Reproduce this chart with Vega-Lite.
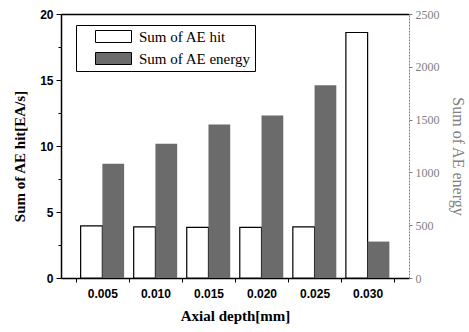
{
  "$schema": "https://vega.github.io/schema/vega-lite/v6.json",
  "width": 348,
  "height": 264,
  "padding": {"left": 12, "top": 8, "right": 5, "bottom": 5},
  "config": {"view": {"stroke": null}, "axis": {"grid": false}},
  "data": {"values": [
    {"depth": "0.005", "hit": 3.95, "energy": 1081},
    {"depth": "0.010", "hit": 3.88, "energy": 1271},
    {"depth": "0.015", "hit": 3.83, "energy": 1454},
    {"depth": "0.020", "hit": 3.83, "energy": 1540},
    {"depth": "0.025", "hit": 3.88, "energy": 1825},
    {"depth": "0.030", "hit": 18.6, "energy": 345}
  ]},
  "layer": [
    {
      "mark": {"type": "bar", "stroke": "black", "strokeWidth": 1.2},
      "encoding": {
        "x": {"field": "depth", "type": "nominal", "sort": null,
          "scale": {"paddingInner": 0, "paddingOuter": 0.28},
          "axis": {"orient": "bottom", "title": "Axial depth[mm]", "labelAngle": 0, "tickBand": "extent",
            "labelFont": "Liberation Sans", "labelFontWeight": "bold", "labelFontSize": 12, "labelColor": "black", "labelPadding": 6,
            "titleFont": "Liberation Serif", "titleFontWeight": "bold", "titleFontSize": 15, "titleColor": "black", "titlePadding": 9,
            "domainColor": "black", "domainWidth": 1.5, "tickColor": "black", "tickSize": 4}},
        "xOffset": {"datum": "hit", "scale": {"domain": ["hit", "energy"], "paddingInner": 0, "paddingOuter": 0.22}},
        "y": {"field": "hit", "type": "quantitative", "scale": {"domain": [0, 20]},
          "axis": {"orient": "left", "title": "Sum of AE hit[EA/s]",
            "values": [0, 2.5, 5, 7.5, 10, 12.5, 15, 17.5, 20],
            "labelExpr": "datum.value % 5 === 0 ? datum.label : ''",
            "tickSize": {"condition": {"test": "datum.value % 5 === 0", "value": 5}, "value": 3},
            "labelFont": "Liberation Sans", "labelFontWeight": "bold", "labelFontSize": 12, "labelColor": "black", "labelPadding": 3,
            "titleFont": "Liberation Serif", "titleFontWeight": "bold", "titleFontSize": 15, "titleColor": "black", "titlePadding": 12,
            "titleY": 142,
            "domainColor": "black", "domainWidth": 1.5, "tickColor": "black"}},
        "fill": {"datum": "Sum of AE hit", "type": "nominal",
          "scale": {"domain": ["Sum of AE hit", "Sum of AE energy"], "range": ["white", "#6b6b6b"]},
          "legend": {"title": null, "orient": "none", "legendX": 15, "legendY": 11,
            "symbolType": "M-3,-1H3V1H-3Z", "symbolSize": 144, "symbolStrokeColor": "black", "symbolStrokeWidth": 1,
            "labelFont": "Liberation Serif", "labelFontSize": 15, "labelColor": "black", "labelOffset": 18,
            "strokeColor": "black", "fillColor": "white", "padding": 4, "symbolOffset": 26, "rowPadding": 5}}
      }
    },
    {
      "mark": {"type": "bar"},
      "encoding": {
        "x": {"field": "depth", "type": "nominal", "sort": null,
          "axis": {"orient": "top", "labels": false, "ticks": false, "title": null, "domainColor": "black", "domainWidth": 1.5}},
        "xOffset": {"datum": "energy"},
        "y": {"field": "energy", "type": "quantitative", "scale": {"domain": [0, 2500]},
          "axis": {"orient": "right", "title": "Sum of AE energy", "values": [0, 500, 1000, 1500, 2000, 2500], "format": "d",
            "labelFont": "Liberation Serif", "labelFontSize": 12, "labelColor": "#808080", "labelPadding": 3,
            "titleFont": "Liberation Serif", "titleFontWeight": "normal", "titleFontSize": 16, "titleColor": "#808080", "titlePadding": 10,
            "titleY": 142,
            "domainColor": "#808080", "domainDash": [2, 1], "domainWidth": 1, "tickColor": "#808080", "tickSize": 3}},
        "fill": {"datum": "Sum of AE energy", "type": "nominal"}
      }
    }
  ],
  "resolve": {"scale": {"y": "independent"}, "axis": {"x": "independent"}}
}
